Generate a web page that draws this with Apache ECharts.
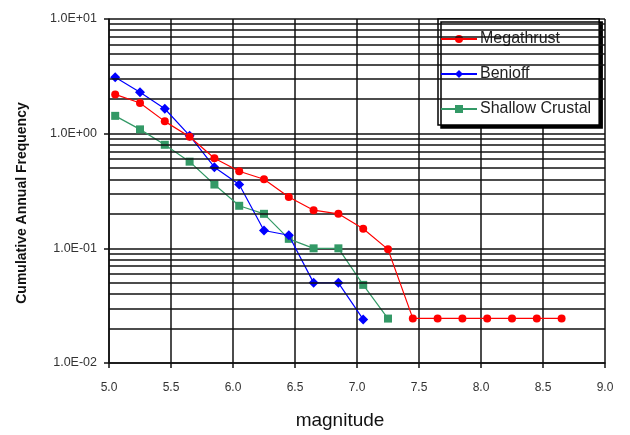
<!DOCTYPE html>
<html><head><meta charset="utf-8">
<script src="https://cdn.jsdelivr.net/npm/echarts@6/dist/echarts.min.js"></script>
<style>html,body{margin:0;padding:0;background:#fff}#c{width:630px;height:435px}</style>
</head><body><div id="c"></div>
<script>
var magnitudes = [5.05,5.25,5.45,5.65,5.85,6.05,6.25,6.45,6.65,6.85,7.05,7.25,7.45,7.65,7.85,8.05,8.25,8.45,8.65];
var megathrust = [2.2,1.85,1.28,0.94,0.61,0.47,0.40,0.28,0.215,0.20,0.148,0.098,0.0245,0.0245,0.0245,0.0245,0.0245,0.0245,0.0245];
var benioff = [3.1,2.3,1.65,0.96,0.51,0.36,0.143,0.13,0.05,0.05,0.024];
var shallowCrustal = [1.43,1.09,0.80,0.57,0.36,0.235,0.20,0.121,0.10,0.10,0.048,0.0244];
var minorGridValues = [0.02,0.03,0.04,0.05,0.06,0.07,0.08,0.09,0.2,0.3,0.4,0.5,0.6,0.7,0.8,0.9,2,3,4,5,6,7,8,9];
var seriesNames = ['Megathrust','Benioff','Shallow Crustal'];

function pairs(vals){ return vals.map(function(v,i){ return [magnitudes[i], v]; }); }
function sci(v){
  var e = Math.round(Math.log10(v));
  var m = v/Math.pow(10,e);
  var s = e<0?'-':'+';
  var a = Math.abs(e);
  return m.toFixed(1)+'E'+s+(a<10?'0'+a:a);
}
var gridLine = {color:'#111', width:1.5};
var chart = echarts.init(document.getElementById('c'));
chart.setOption({
  animation:false,
  grid:{left:109,right:25,top:19,bottom:68},
  legend:{
    data:seriesNames, orient:'vertical', left:438, top:19,
    backgroundColor:'#fff', borderColor:'#000', borderWidth:1.5,
    padding:[12,8,8,2], itemGap:19, itemWidth:36, itemHeight:10,
    shadowColor:'#000', shadowOffsetX:3, shadowOffsetY:3, shadowBlur:0,
    textStyle:{fontFamily:'Liberation Sans, Arial', fontSize:16, color:'#222', padding:[0,0,0,-2]}
  },
  xAxis:{
    type:'value', min:5, max:9, interval:0.5,
    name:'magnitude', nameLocation:'middle', nameGap:48,
    nameTextStyle:{fontFamily:'Liberation Sans, Arial', fontSize:19, color:'#111', padding:[0,34,0,0]},
    axisLine:{lineStyle:gridLine}, axisTick:{show:true,length:5,lineStyle:gridLine},
    axisLabel:{margin:19, fontFamily:'Liberation Sans, Arial', fontSize:12, color:'#333',
      formatter:function(v){return v.toFixed(1);}},
    splitLine:{show:true,lineStyle:gridLine}
  },
  yAxis:{
    type:'log', logBase:10, min:0.01, max:10,
    axisLine:{show:true,lineStyle:gridLine}, axisTick:{show:true,length:5,lineStyle:gridLine},
    axisLabel:{margin:12, fontFamily:'Liberation Sans, Arial', fontSize:12.5, color:'#333', formatter:sci},
    splitLine:{show:true,lineStyle:gridLine}
  },
  graphic:[{
    type:'text', x:22, y:203, rotation:Math.PI/2,
    style:{text:'Cumulative Annual Frequency', fontFamily:'Liberation Sans, Arial', fontWeight:'bold', fontSize:14, fill:'#111', textAlign:'center', textVerticalAlign:'middle'}
  }],
  series:[
    {type:'line', name:'grid', data:[], z:1, silent:true,
     markLine:{silent:true, symbol:'none', label:{show:false}, lineStyle:{color:'#111',width:1.5,type:'solid'},
       data:minorGridValues.map(function(v){return {yAxis:v};})}},
    {type:'line', name:'Megathrust', data:pairs(megathrust), z:5, color:'#ff0000',
     symbol:'circle', symbolSize:8, lineStyle:{width:1.2}},
    {type:'line', name:'Benioff', data:pairs(benioff), z:4, color:'#0000ff',
     symbol:'diamond', symbolSize:10, lineStyle:{width:1.2}},
    {type:'line', name:'Shallow Crustal', data:pairs(shallowCrustal), z:3, color:'#339966',
     symbol:'rect', symbolSize:8, lineStyle:{width:1.2}}
  ]
});
</script></body></html>
